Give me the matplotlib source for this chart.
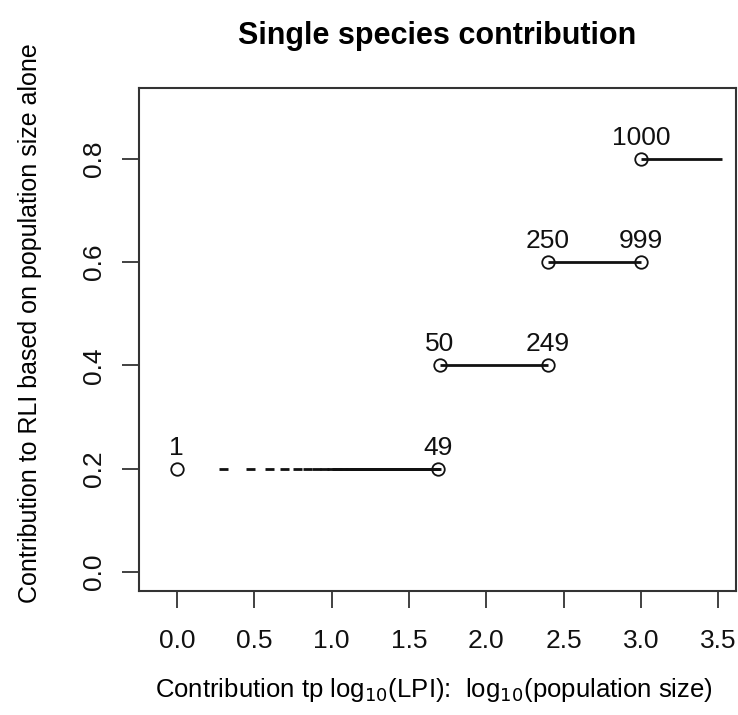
import matplotlib
matplotlib.use("Agg")
import matplotlib.pyplot as plt
import numpy as np

plt.rcParams['font.family'] = ['Liberation Sans', 'DejaVu Sans']

# Population size thresholds (labels) and their RLI contributions
pop_sizes = [1, 49, 50, 249, 250, 999, 1000]
rli_contrib = [0.2, 0.2, 0.4, 0.4, 0.6, 0.6, 0.8]
# solid horizontal segments: (start pop, end pop, y)
seg_start = [10, 50, 250, 1000]
seg_end = [49, 249, 999, 3330]
seg_y = [0.2, 0.4, 0.6, 0.8]
# intermediate population sizes 2..48 drawn as short dashes on the 0.2 level
small_pops = [2, 3, 4, 5, 6, 7, 8, 9, 10, 11, 12, 13, 14, 15, 16, 17, 18, 19, 20,
              21, 22, 23, 24, 25, 26, 27, 28, 29, 30, 31, 32, 33, 34, 35, 36, 37,
              38, 39, 40, 41, 42, 43, 44, 45, 46, 47, 48]

xticks = [0.0, 0.5, 1.0, 1.5, 2.0, 2.5, 3.0, 3.5]
yticks = [0.0, 0.2, 0.4, 0.6, 0.8]

fig = plt.figure(figsize=(7.38, 7.15), dpi=100)
ax = fig.add_axes([139/738, 1 - 591/715, (736-139)/738, (591-88)/715])

lc = '#111111'
# short dashes for population sizes 2..48
for p in small_pops:
    lx = np.log10(p)
    ax.plot([lx - 0.029, lx + 0.029], [0.2, 0.2], color=lc, lw=2.0, solid_capstyle='butt')
# solid segments
for s, e, y in zip(seg_start, seg_end, seg_y):
    ax.plot([np.log10(s), np.log10(e)], [y, y], color=lc, lw=2.0, solid_capstyle='butt')

lx = np.log10(pop_sizes)
ax.plot(lx, rli_contrib, linestyle='none', marker='o', markersize=9,
        markerfacecolor='none', markeredgecolor=lc, markeredgewidth=1.3)
for x, y, p in zip(lx, rli_contrib, pop_sizes):
    ax.annotate(str(p), (x, y), xytext=(0, 6.5), textcoords='offset points',
                ha='center', va='bottom', fontsize=19, color='#111111')

ax.set_xlim(-0.244, 3.614)
ax.set_ylim(-0.0368, 0.9375)
ax.set_xticks(xticks)
ax.set_xticklabels([f"{t:.1f}" for t in xticks])
ax.set_yticks(yticks)
ax.set_yticklabels([f"{t:.1f}" for t in yticks], rotation=90, va='center')
ax.tick_params(axis='both', length=12, width=1.3, color='#333333',
               labelsize=19, labelcolor='#111111')
ax.tick_params(axis='x', pad=15)
ax.tick_params(axis='y', pad=12)
for sp in ax.spines.values():
    sp.set_linewidth(1.5)
    sp.set_color('#333333')

ax.set_title("Single species contribution", fontsize=22, fontweight='bold', pad=32)
ax.set_xlabel(r"Contribution tp log$_{10}$(LPI):  log$_{10}$(population size)",
              fontsize=18.5, va='center')
ax.xaxis.set_label_coords((434 - 139) / 597, (591 - 690) / 503)
ax.set_ylabel("Contribution to RLI based on population size alone", fontsize=18,
              va='center')
ax.yaxis.set_label_coords((30 - 139) / 597, (591 - 323) / 503)

fig.savefig("out.png", dpi=100)
